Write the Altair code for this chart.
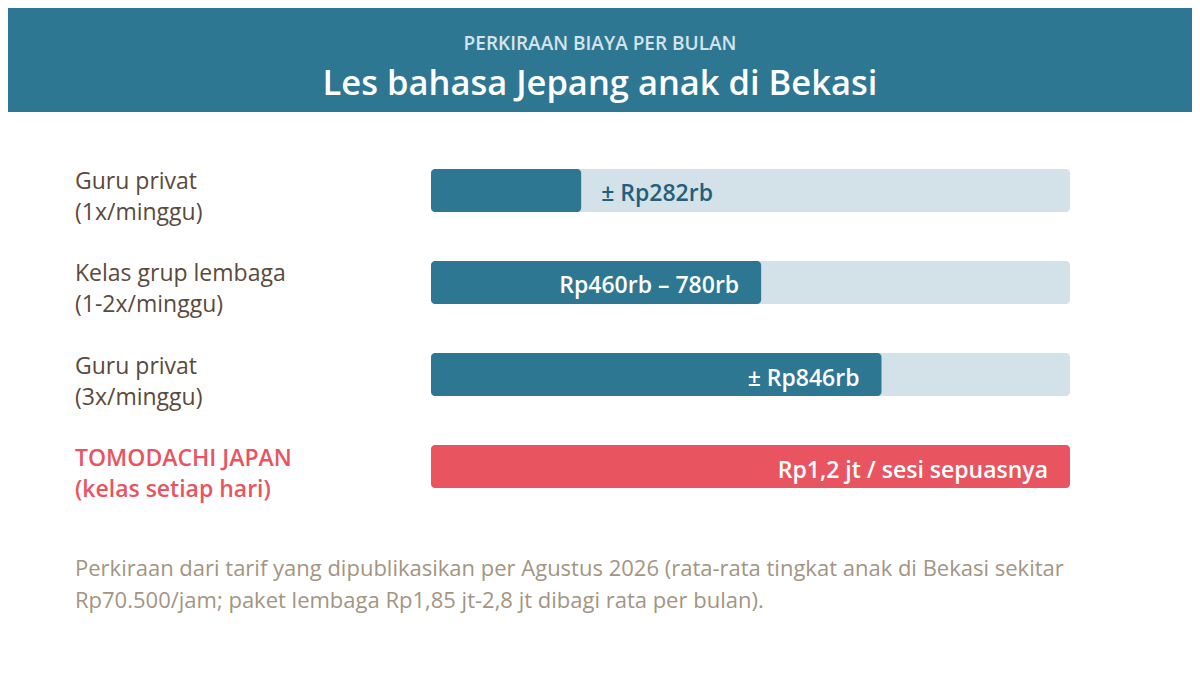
import altair as alt
import pandas as pd

# ---- data ----
categories = ["c1", "c2", "c3", "c4"]
label_line1 = ["Guru privat", "Kelas grup lembaga", "Guru privat", "TOMODACHI JAPAN"]
label_line2 = ["(1x/minggu)", "(1-2x/minggu)", "(3x/minggu)", "(kelas setiap hari)"]
values = [282, 620, 846, 1200]          # ribu rupiah per bulan (bar length)
value_labels = ["± Rp282rb", "Rp460rb – 780rb", "± Rp846rb", "Rp1,2 jt / sesi sepuasnya"]
label_inside = [False, True, True, True]
highlight = [False, False, False, True]
track_max = 1200

subtitle = "PERKIRAAN BIAYA PER BULAN"
title = "Les bahasa Jepang anak di Bekasi"
footnote = [
    "Perkiraan dari tarif yang dipublikasikan per Agustus 2026 (rata-rata tingkat anak di Bekasi sekitar",
    "Rp70.500/jam; paket lembaga Rp1,85 jt-2,8 jt dibagi rata per bulan).",
]

TEAL = "#2e7793"
TRACK = "#d3e1e8"
RED = "#e85561"
LABEL = "#5b4a3c"
FOOT = "#a39583"
FONT = "Open Sans"

df = pd.DataFrame({
    "cat": categories,
    "l1": label_line1,
    "l2": label_line2,
    "value": values,
    "vlabel": value_labels,
    "inside": label_inside,
    "hl": highlight,
    "track": [track_max] * len(categories),
})

W, H = 1184, 670
xs = alt.Scale(domain=[0, track_max], range=[423, 1062])
ys = alt.Scale(type="band", domain=categories, range=[161, 480], paddingInner=0.533, paddingOuter=0)

base = alt.Chart(df)
X0 = alt.X("zero:Q", scale=xs, axis=None)
Y = alt.Y("cat:N", scale=ys, axis=None, sort=categories)

track = base.transform_calculate(zero="0").mark_bar(color=TRACK, cornerRadius=4).encode(
    x=X0, x2="track:Q", y=Y
)
bars = base.transform_calculate(zero="0").mark_bar(cornerRadius=4).encode(
    x=X0, x2="value:Q", y=Y,
    color=alt.condition("datum.hl", alt.value(RED), alt.value(TEAL)),
)

val_in = base.transform_filter("datum.inside").mark_text(
    align="right", baseline="middle", dx=-22, dy=4, font=FONT, fontSize=23,
    fontWeight=600, color="white"
).encode(x=alt.X("value:Q", scale=xs, axis=None), y=Y, text="vlabel:N")

val_out = base.transform_filter("!datum.inside").mark_text(
    align="left", baseline="middle", dx=20, dy=4, font=FONT, fontSize=23,
    fontWeight=600, color="#245f7c"
).encode(x=alt.X("value:Q", scale=xs, axis=None), y=Y, text="vlabel:N")

lab_kw = dict(align="left", baseline="middle", font=FONT, fontSize=23)
norm = base.transform_filter("!datum.hl")
hil = base.transform_filter("datum.hl")
lab1 = norm.mark_text(dy=-8, color=LABEL, **lab_kw).encode(x=alt.value(67), y=Y, text="l1:N")
lab2 = norm.mark_text(dy=23, color=LABEL, **lab_kw).encode(x=alt.value(67), y=Y, text="l2:N")
lab1h = hil.mark_text(dy=-8, color=RED, fontWeight=600, **lab_kw).encode(x=alt.value(67), y=Y, text="l1:N")
lab2h = hil.mark_text(dy=23, color=RED, fontWeight=600, **lab_kw).encode(x=alt.value(67), y=Y, text="l2:N")

one = alt.Data(values=[{"s": subtitle, "t": title, "f": footnote}])
header = alt.Chart(one).mark_rect(color=TEAL).encode(
    x=alt.value(0), x2=alt.value(W), y=alt.value(0), y2=alt.value(104)
)
sub_t = alt.Chart(one).mark_text(
    align="center", baseline="middle", font=FONT, fontSize=19, fontWeight=600,
    color="#d5e4ec"
).encode(x=alt.value(592), y=alt.value(36), text="s:N")
title_t = alt.Chart(one).mark_text(
    align="center", baseline="middle", font=FONT, fontSize=34.5, fontWeight=600, color="white"
).encode(x=alt.value(592), y=alt.value(77), text="t:N")

foot = alt.Chart(one).mark_text(
    align="left", baseline="middle", font=FONT, fontSize=22, color=FOOT, lineHeight=32
).encode(x=alt.value(67), y=alt.value(561), text="f:N")

chart = alt.layer(header, sub_t, title_t, track, bars, val_in, val_out,
                  lab1, lab2, lab1h, lab2h, foot).properties(
    width=W, height=H, padding=0, autosize=alt.AutoSizeParams(type="none"),
    background="white",
).configure_view(stroke=None)

chart.save("out.html", embed_options={"renderer": "svg", "actions": False})
